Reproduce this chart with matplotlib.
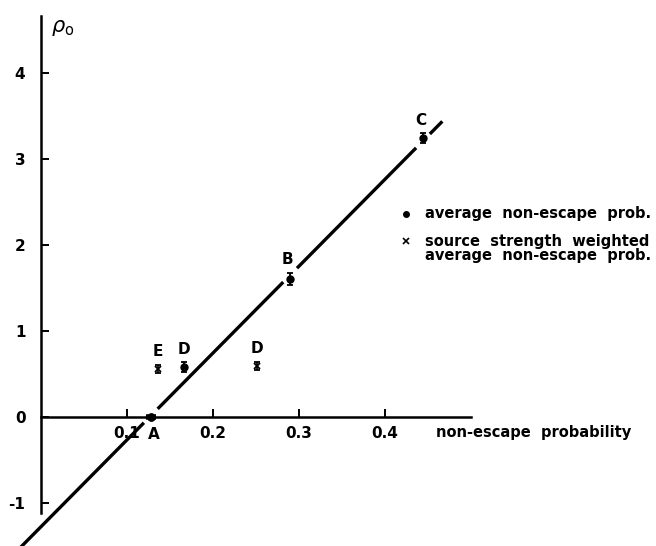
import matplotlib
matplotlib.use("Agg")
import matplotlib.pyplot as plt
import numpy as np

# Average non-escape probability (dots)
avg_labels = ["A", "D", "B", "C"]
avg_x = [0.128, 0.167, 0.290, 0.4445]
avg_y = [0.0, 0.58, 1.60, 3.24]
avg_yerr = [0.0, 0.06, 0.07, 0.06]

# Source strength weighted average non-escape probability (crosses)
wt_labels = ["E", "D"]
wt_x = [0.136, 0.251]
wt_y = [0.556, 0.59]
wt_yerr = [0.05, 0.05]

# Fitted straight line rho_0 = slope * (p - p0)
fit_slope = 10.1
fit_zero = 0.127
fit_xmin, fit_xmax = -0.06, 0.4670
gap = 0.008

x_ticks = [0.1, 0.2, 0.3, 0.4]
x_ticklabels = ["0.1", "0.2", "0.3", "0.4"]
y_ticks = [-1, 0, 1, 2, 3, 4]
y_ticklabels = ["-1", "0", "1", "2", "3", "4"]

plt.rcParams["font.family"] = ["DejaVu Sans"]

fig = plt.figure(figsize=(6.56, 5.46), dpi=100)
ax = fig.add_axes([0, 0, 1, 1])
ax.set_xlim(-40.7 / 860, (656 - 40.7) / 860)
ax.set_ylim((416.7 - 546) / 86, 416.7 / 86)
ax.set_facecolor("white")

# axes through the origin
for s in ["top", "right"]:
    ax.spines[s].set_visible(False)
ax.spines["left"].set_position(("data", 0))
ax.spines["bottom"].set_position(("data", 0))
ax.spines["left"].set_bounds(-1.12, 4.66)
ax.spines["bottom"].set_bounds(0, 0.50)
for s in ["left", "bottom"]:
    ax.spines[s].set_linewidth(1.8)
    ax.spines[s].set_color("black")

ax.set_xticks(x_ticks)
ax.set_xticklabels(x_ticklabels)
ax.set_yticks(y_ticks)
ax.set_yticklabels(y_ticklabels)
ax.tick_params(axis="both", direction="in", length=6, width=1.4,
               labelsize=11, colors="black")
ax.tick_params(axis="x", pad=7)
ax.tick_params(axis="y", pad=11)
for lbl in ax.get_xticklabels() + ax.get_yticklabels():
    lbl.set_fontweight("bold")

# fitted line, broken around the A, B and C points
breaks = sorted([avg_x[0], avg_x[2], avg_x[3]])
edges = [fit_xmin]
for b in breaks:
    edges += [b - gap, b + gap]
edges.append(fit_xmax)
for i in range(0, len(edges), 2):
    xs = np.array([edges[i], edges[i + 1]])
    ax.plot(xs, fit_slope * (xs - fit_zero), color="black", lw=2.4,
            solid_capstyle="butt", zorder=2)

# data points with error bars
ax.errorbar(avg_x, avg_y, yerr=avg_yerr, fmt="o", color="black", ms=5,
            capsize=2.5, elinewidth=1.3, capthick=1.3, zorder=3)
ax.errorbar([avg_x[0]], [avg_y[0]], xerr=[0.006], fmt="o", color="black",
            ms=5, elinewidth=4, capsize=0, zorder=3)
ax.errorbar(wt_x, wt_y, yerr=wt_yerr, fmt="x", color="black", ms=4,
            mew=1.3, capsize=2.5, elinewidth=1.2, capthick=1.2, zorder=3)

# point labels
label_offsets = {"A": (0.004, -0.21), "D": (0.0, 0.2), "B": (-0.003, 0.23),
                 "C": (-0.002, 0.2)}
for lab, x, y in zip(avg_labels, avg_x, avg_y):
    dx, dy = label_offsets[lab]
    ax.text(x + dx, y + dy, lab, ha="center", va="center", fontsize=11,
            fontweight="bold")
for lab, x, y in zip(wt_labels, wt_x, wt_y):
    ax.text(x, y + 0.2, lab, ha="center", va="center", fontsize=11,
            fontweight="bold")

# axis titles
ax.text(0.012, 4.52, r"$\rho_{\mathrm{o}}$", fontsize=15, ha="left",
        va="center")
ax.text(0.460, -0.18, "non-escape  probability", fontsize=10.5, ha="left",
        va="center", fontweight="bold")

# key
ax.plot([0.4245], [2.36], "o", color="black", ms=4)
ax.text(0.447, 2.36, "average  non-escape  prob.", fontsize=10.5,
        va="center", fontweight="bold")
ax.plot([0.4245], [2.04], "x", color="black", ms=4, mew=1.2)
ax.text(0.447, 2.04, "source  strength  weighted", fontsize=10.5,
        va="center", fontweight="bold")
ax.text(0.447, 1.88, "average  non-escape  prob.", fontsize=10.5,
        va="center", fontweight="bold")

fig.savefig("out.png", dpi=100, facecolor="white")
